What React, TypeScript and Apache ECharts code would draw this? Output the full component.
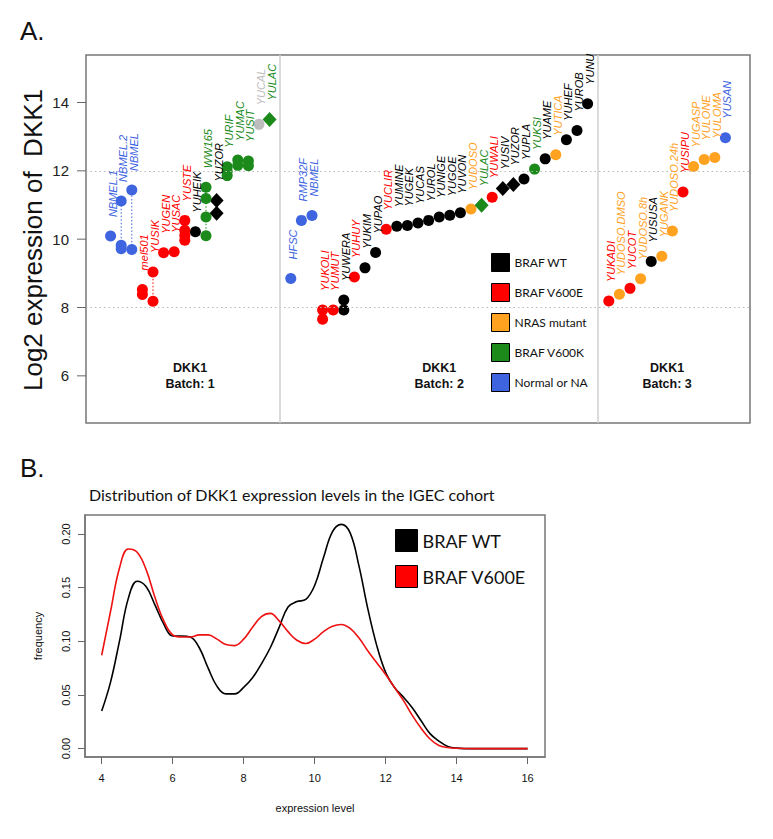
import React, { useEffect, useRef } from "react";
import * as echarts from "echarts";

// ---------- Panel A data ----------
const groupNames = ["BRAF WT", "BRAF V600E", "NRAS mutant", "BRAF V600K", "Normal or NA", "Unknown"];
const groupColors = ["#000000", "#ff0000", "#ffa21f", "#1b8a1b", "#3e64e0", "#bdbdbd"];
const legendGroups = ["BRAF WT", "BRAF V600E", "NRAS mutant", "BRAF V600K", "Normal or NA"];
const diamondSamples = ["YUZOR", "YULAC", "YUSIV"];

// group index: 0 WT, 1 V600E, 2 NRAS, 3 V600K, 4 Normal/NA, 5 unknown
const batch1Names = ["NBMEL.1", "NBMEL.2", "NBMEL", "mel501", "YUSIK", "YUGEN", "YUSAC", "YUSTE", "YUHEIK", "WW165", "YUZOR", "YURIF", "YUMAC", "YUSIT", "YUCAL", "YULAC"];
const batch1Groups = [4, 4, 4, 1, 1, 1, 1, 1, 0, 3, 0, 3, 3, 3, 5, 3];
const batch1Values = [
  [10.09], [11.12, 9.82, 9.72], [11.44, 9.7], [8.53, 8.38], [9.04, 8.18], [9.6], [9.63],
  [10.55, 10.26, 10.11, 9.97], [10.22], [11.52, 11.19, 10.65, 10.1], [11.13, 10.76],
  [12.12, 11.99, 11.86], [12.32, 12.16], [12.29, 12.15], [13.36], [13.5],
];

const batch2Names = ["HFSC", "RMP32F", "NBMEL", "YUKOLI", "YUMUT", "YUWERA", "YUHUY", "YUKIM", "YUPAO", "YUCLIR", "YUMINE", "YUGEK", "YUCAS", "YUROL", "YUNIGE", "YUGOE", "YUVON", "YUDOSO", "YULAC", "YUWALI", "YUSIV", "YUZOR", "YUPLA", "YUKSI", "YUAME", "YUTICA", "YUHEF", "YUROB", "YUNU"];
const batch2Groups = [4, 4, 4, 1, 1, 0, 1, 0, 0, 1, 0, 0, 0, 0, 0, 0, 0, 2, 3, 1, 0, 0, 0, 3, 0, 2, 0, 0, 0];
const batch2Values = [
  [8.85], [10.55], [10.69], [7.93, 7.66], [7.93], [8.22, 7.93], [8.89], [9.16], [9.61], [10.29],
  [10.38], [10.4], [10.47], [10.55], [10.65], [10.7], [10.77], [10.88], [10.99], [11.23],
  [11.48], [11.6], [11.76], [12.05], [12.35], [12.47], [12.91], [13.18], [13.96],
];

const batch3Names = ["YUKADI", "YUDOSO.DMSO", "YUCOT", "YUDOSO.8h", "YUSUSA", "YUGANK", "YUDOSO.24h", "YUSIPU", "YUGASP", "YULONE", "YULOMA", "YUSAN"];
const batch3Groups = [1, 2, 1, 2, 0, 2, 2, 1, 2, 2, 2, 4];
const batch3Values = [[8.19], [8.39], [8.56], [8.84], [9.35], [9.5], [10.24], [11.38], [12.13], [12.33], [12.39], [12.97]];

const batchTitles = ["DKK1\nBatch: 1", "DKK1\nBatch: 2", "DKK1\nBatch: 3"];
// sample slots: batch 1 = 1..16, divider 17, batch 2 = 18..46, divider 47, batch 3 = 48..59
const batchStart = [1, 18, 48];
const batchDividers = [17, 47];
const yTicksA = [6, 8, 10, 12, 14];
const refLinesA = [8, 12];

// ---------- Panel B data ----------
const densityX = [4, 4.25, 4.5, 4.75, 5, 5.25, 5.5, 5.75, 6, 6.25, 6.5, 6.75, 7, 7.25, 7.5, 7.75, 8, 8.25, 8.5, 8.75, 9, 9.25, 9.5, 9.75, 10, 10.25, 10.5, 10.75, 11, 11.25, 11.5, 11.75, 12, 12.25, 12.5, 12.75, 13, 13.25, 13.5, 13.75, 14, 14.5, 15, 15.5, 16];
const densityWT = [0.035, 0.062, 0.1, 0.14, 0.156, 0.151, 0.134, 0.116, 0.105, 0.105, 0.104, 0.094, 0.075, 0.058, 0.051, 0.051, 0.057, 0.066, 0.079, 0.094, 0.113, 0.132, 0.137, 0.139, 0.152, 0.178, 0.202, 0.209, 0.201, 0.17, 0.13, 0.096, 0.071, 0.057, 0.048, 0.038, 0.026, 0.014, 0.007, 0.002, 0.0005, 0, 0, 0, 0];
const densityV600E = [0.087, 0.128, 0.168, 0.186, 0.183, 0.167, 0.141, 0.119, 0.106, 0.104, 0.104, 0.106, 0.106, 0.102, 0.097, 0.096, 0.102, 0.113, 0.123, 0.126, 0.119, 0.109, 0.101, 0.098, 0.102, 0.109, 0.114, 0.1157, 0.112, 0.103, 0.091, 0.08, 0.069, 0.057, 0.045, 0.031, 0.019, 0.009, 0.003, 0.001, 0.0003, 0, 0, 0, 0];
const densitySeriesNames = ["BRAF WT", "BRAF V600E"];
const xTicksB = [4, 6, 8, 10, 12, 14, 16];
const yTicksB = [0, 0.05, 0.1, 0.15, 0.2];

const SANS = "'Liberation Sans', Arial, sans-serif";
const HUM = "Lato, 'Open Sans', sans-serif";

type Col = { x: number; name: string; group: number; values: number[] };

function buildPanelA(): any {
  const SHIFT = 100;
  const batches = [
    { names: batch1Names, groups: batch1Groups, values: batch1Values },
    { names: batch2Names, groups: batch2Groups, values: batch2Values },
    { names: batch3Names, groups: batch3Groups, values: batch3Values },
  ];
  const columns: Col[] = [];
  batches.forEach((b, bi) =>
    b.names.forEach((n, j) =>
      columns.push({ x: SHIFT + batchStart[bi] + j, name: n, group: b.groups[j], values: b.values[j] })
    )
  );
  const nSlots = 59;
  const pad = (nSlots - 1) * 0.04;
  const xMin = SHIFT + 1 - pad;

  const scatterSeries = groupNames.map((gName, g) => ({
    name: gName,
    type: "scatter",
    z: 4,
    itemStyle: { color: groupColors[g], opacity: 1 },
    data: columns
      .filter((c) => c.group === g)
      .flatMap((c) =>
        c.values.map((v) => {
          const dia = diamondSamples.includes(c.name);
          return { value: [c.x, v], symbol: dia ? "diamond" : "circle", symbolSize: dia ? [14, 15] : 11 };
        })
      ),
    markLine:
      g === 0
        ? {
            silent: true,
            symbol: ["none", "none"],
            label: { show: false },
            data: [
              ...refLinesA.map((v) => ({ yAxis: v, lineStyle: { type: [1.5, 3], color: "#b8b8b8", width: 1 } })),
              ...batchDividers.map((v) => ({ xAxis: SHIFT + v, lineStyle: { type: "solid", color: "#cfcfcf", width: 1.5 } })),
            ],
          }
        : undefined,
  }));

  const connectorSeries = {
    type: "custom",
    z: 3,
    silent: true,
    data: columns
      .map((c, i) => [c.x, Math.min(...c.values), Math.max(...c.values), i])
      .filter((d) => d[2] - d[1] > 0.3),
    renderItem: (params: any, api: any) => {
      const c = columns[api.value(3)];
      const p1 = api.coord([api.value(0), api.value(1)]);
      const p2 = api.coord([api.value(0), api.value(2)]);
      return {
        type: "line",
        shape: { x1: p1[0], y1: p1[1], x2: p2[0], y2: p2[1] },
        style: { stroke: groupColors[c.group], lineWidth: 1, lineDash: [1.5, 2] },
      };
    },
  };

  const labelSeries = {
    type: "custom",
    z: 5,
    silent: true,
    data: columns.map((c, i) => [c.x, Math.max(...c.values), i]),
    renderItem: (params: any, api: any) => {
      const c = columns[api.value(2)];
      const p = api.coord([api.value(0), api.value(1)]);
      return {
        type: "text",
        x: p[0] + 2,
        y: p[1] - 19,
        rotation: Math.PI / 2,
        style: {
          text: c.name,
          fill: groupColors[c.group],
          fontSize: 11,
          fontStyle: "italic",
          fontFamily: SANS,
          align: "left",
          verticalAlign: "middle",
        },
      };
    },
  };

  const batchTitleSeries = {
    type: "custom",
    z: 5,
    silent: true,
    data: batches.map((b, bi) => [SHIFT + batchStart[bi] + (b.names.length - 1) / 2, 6, bi]),
    renderItem: (params: any, api: any) => {
      const p = api.coord([api.value(0), api.value(1)]);
      return {
        type: "text",
        x: p[0],
        y: p[1],
        style: {
          text: batchTitles[api.value(2)],
          fill: "#111",
          fontSize: 12.5,
          fontWeight: "bold",
          fontFamily: SANS,
          align: "center",
          verticalAlign: "middle",
          lineHeight: 16,
        },
      };
    },
  };

  // y-axis ticks and tick labels drawn at the grid's left edge through the axis scale
  const yTickSeries = {
    type: "custom",
    z: 6,
    silent: true,
    data: yTicksA.map((v) => [xMin, v]),
    renderItem: (params: any, api: any) => {
      const p = api.coord([api.value(0), api.value(1)]);
      return {
        type: "group",
        children: [
          { type: "line", shape: { x1: p[0] - 9, y1: p[1], x2: p[0], y2: p[1] }, style: { stroke: "#666", lineWidth: 1 } },
          {
            type: "text",
            x: p[0] - 17,
            y: p[1],
            style: { text: String(api.value(1)), fill: "#222", fontSize: 15, fontFamily: SANS, align: "right", verticalAlign: "middle" },
          },
        ],
      };
    },
  };

  return {
    animation: false,
    graphic: [
      { type: "text", left: 20, top: 18, style: { text: "A.", fontSize: 26, fontFamily: SANS, fill: "#111" } },
      {
        type: "text",
        x: 33,
        y: 240,
        rotation: Math.PI / 2,
        style: { text: "Log2 expression of  DKK1", fontSize: 26, fontFamily: SANS, fill: "#111", align: "center", verticalAlign: "middle" },
      },
    ],
    legend: {
      data: legendGroups,
      orient: "vertical",
      left: 486,
      top: 248,
      itemWidth: 18,
      itemHeight: 18,
      itemGap: 11,
      icon: "rect",
      selectedMode: false,
      itemStyle: { borderColor: "#000", borderWidth: 1 },
      textStyle: { fontFamily: HUM, fontSize: 12, color: "#111" },
    },
    grid: { left: 86, top: 55, width: 664, height: 368, show: true, borderColor: "#777", borderWidth: 1.5, outerBoundsMode: "none" },
    xAxis: { type: "value", min: xMin, max: SHIFT + nSlots + pad, show: false },
    yAxis: { type: "value", min: 4.62, max: 15.39, show: false },
    series: [connectorSeries, ...scatterSeries, labelSeries, batchTitleSeries, yTickSeries],
  };
}

function buildPanelB(): any {
  const curves = [densityWT, densityV600E];
  const colors = ["#000000", "#ee1111"];
  return {
    animation: false,
    title: {
      text: "Distribution of DKK1 expression levels in the IGEC cohort",
      left: 84,
      top: 31,
      textStyle: { fontFamily: HUM, fontSize: 16, fontWeight: "normal", color: "#111" },
    },
    graphic: [{ type: "text", left: 20, top: 5, style: { text: "B.", fontSize: 26, fontFamily: SANS, fill: "#111" } }],
    legend: {
      data: densitySeriesNames,
      orient: "vertical",
      left: 390,
      top: 74,
      itemWidth: 22,
      itemHeight: 22,
      itemGap: 13,
      icon: "rect",
      selectedMode: false,
      itemStyle: { borderColor: "#000", borderWidth: 1 },
      textStyle: { fontFamily: HUM, fontSize: 18, color: "#111" },
    },
    grid: { left: 85, top: 65, width: 460, height: 242, show: true, borderColor: "#777", borderWidth: 1.5, outerBoundsMode: "none" },
    xAxis: {
      type: "value",
      min: 3.53,
      max: 16.49,
      name: "expression level",
      nameLocation: "middle",
      nameGap: 45,
      nameTextStyle: { fontFamily: SANS, fontSize: 11, color: "#111" },
      axisLine: { show: true, onZero: false, lineStyle: { color: "#777", width: 1.5 } },
      axisTick: { show: true, customValues: xTicksB, length: 7, lineStyle: { color: "#666" } },
      axisLabel: { customValues: xTicksB, fontFamily: SANS, fontSize: 11, color: "#111", margin: 15 },
      splitLine: { show: false },
    },
    yAxis: {
      type: "value",
      min: -0.0078,
      max: 0.2177,
      name: "frequency",
      nameLocation: "middle",
      nameGap: 42,
      nameTextStyle: { fontFamily: SANS, fontSize: 11, color: "#111" },
      axisLine: { show: true, onZero: false, lineStyle: { color: "#777", width: 1.5 } },
      axisTick: { show: true, customValues: yTicksB, length: 7, lineStyle: { color: "#666" } },
      axisLabel: {
        customValues: yTicksB,
        rotate: 90,
        fontFamily: SANS,
        fontSize: 11,
        color: "#111",
        margin: 14,
        formatter: (v: number) => v.toFixed(2),
      },
      splitLine: { show: false },
    },
    series: densitySeriesNames.map((name, k) => ({
      name,
      type: "line",
      smooth: 0.4,
      showSymbol: false,
      itemStyle: { color: k === 0 ? "#000" : "#ff0000" },
      lineStyle: { color: colors[k], width: 1.6 },
      data: densityX.map((x, i) => [x, curves[k][i]]),
    })),
  };
}

export default function App() {
  const refA = useRef<HTMLDivElement>(null);
  const refB = useRef<HTMLDivElement>(null);
  useEffect(() => {
    const a = echarts.init(refA.current!, null, { renderer: "svg" });
    const b = echarts.init(refB.current!, null, { renderer: "svg" });
    a.setOption(buildPanelA());
    b.setOption(buildPanelB());
    return () => {
      a.dispose();
      b.dispose();
    };
  }, []);
  return (
    <div style={{ position: "absolute", left: 0, top: 0, width: 773, height: 839, background: "#fff" }}>
      <div ref={refA} style={{ position: "absolute", left: 0, top: 0, width: 773, height: 450 }} />
      <div ref={refB} style={{ position: "absolute", left: 0, top: 450, width: 773, height: 389 }} />
    </div>
  );
}
